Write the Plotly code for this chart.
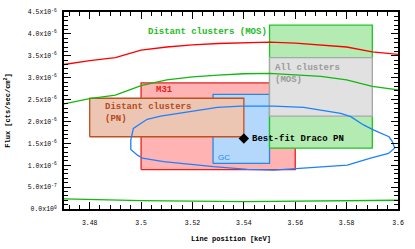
import plotly.graph_objects as go

# ---- data ----
line_x = [3.47, 3.48, 3.49, 3.50, 3.51, 3.52, 3.53, 3.54, 3.55, 3.56, 3.57, 3.58, 3.59, 3.60]
red_upper = [3.30, 3.39, 3.46, 3.63, 3.70, 3.75, 3.78, 3.80, 3.81, 3.79, 3.75, 3.70, 3.59, 3.53]
green_mid = [2.40, 2.52, 2.60, 2.82, 2.95, 3.02, 3.06, 3.09, 3.10, 3.07, 3.03, 2.95, 2.80, 2.72]
green_low_x = [3.47, 3.50, 3.54, 3.58, 3.60]
green_low = [0.23, 0.19, 0.17, 0.18, 0.20]

blue_x = [3.496, 3.497, 3.500, 3.5024, 3.5076, 3.5154, 3.5232, 3.5297, 3.5388, 3.5516,
          3.5633, 3.5777, 3.5816, 3.5866, 3.5906, 3.5965, 3.5978, 3.5987, 3.5963, 3.5893,
          3.5803, 3.5633, 3.5516, 3.5414, 3.5282, 3.5088, 3.5005, 3.4986, 3.496, 3.496]
blue_y = [1.575, 1.84, 1.96, 2.05, 2.12, 2.185, 2.26, 2.32, 2.35, 2.35,
          2.32, 2.185, 2.11, 1.92, 1.80, 1.65, 1.54, 1.39, 1.27, 1.16,
          1.00, 0.93, 0.89, 0.906, 0.966, 1.08, 1.16, 1.23, 1.36, 1.575]

# boxes: (x0, x1, y0, y1) in keV and 1e-6 cts/sec/cm^2
box_m31 = [3.50, 3.56, 0.90, 2.88]
box_gc = [3.528, 3.55, 1.04, 2.62]
box_pn = [3.48, 3.54, 1.65, 2.53]
box_mos = [3.55, 3.59, 1.39, 4.20]
box_all = [3.55, 3.59, 2.12, 3.46]

best_fit_x = [3.54]
best_fit_y = [1.61]

y_tickvals = [0, 0.5, 1.0, 1.5, 2.0, 2.5, 3.0, 3.5, 4.0, 4.5]
y_ticktext = ["0.0x10<sup>0</sup>", "5.0x10<sup>-7</sup>", "1.0x10<sup>-6</sup>",
              "1.5x10<sup>-6</sup>", "2.0x10<sup>-6</sup>", "2.5x10<sup>-6</sup>",
              "3.0x10<sup>-6</sup>", "3.5x10<sup>-6</sup>", "4.0x10<sup>-6</sup>",
              "4.5x10<sup>-6</sup>"]
x_tickvals = [3.48, 3.50, 3.52, 3.54, 3.56, 3.58, 3.60]
x_ticktext = ["3.48", "3.5", "3.52", "3.54", "3.56", "3.58", "3.6"]

MONO = "Liberation Mono"

fig = go.Figure()


def add_box(b, fill, edge):
    x0, x1, y0, y1 = b
    fig.add_trace(go.Scatter(
        x=[x0, x1, x1, x0, x0], y=[y0, y0, y1, y1, y0],
        mode="lines", fill="toself", fillcolor=fill,
        line=dict(color=edge, width=1.3), hoverinfo="skip", showlegend=False))


add_box(box_m31, "#ffb3b3", "#e82020")
add_box(box_gc, "#b3d8fb", "#2a86e8")
add_box(box_pn, "#ecc6b2", "#c0501e")
add_box(box_mos, "#b3ebb3", "#22c422")
add_box(box_all, "#e1e1e1", "#a8a8a8")

fig.add_trace(go.Scatter(x=line_x, y=red_upper, mode="lines",
                         line=dict(color="#ff0000", width=1.3), showlegend=False))
fig.add_trace(go.Scatter(x=line_x, y=green_mid, mode="lines",
                         line=dict(color="#10b810", width=1.3), showlegend=False))
fig.add_trace(go.Scatter(x=green_low_x, y=green_low, mode="lines",
                         line=dict(color="#10b810", width=1.3), showlegend=False))
fig.add_trace(go.Scatter(x=blue_x, y=blue_y, mode="lines",
                         line=dict(color="#1e80ff", width=1.3, shape="linear"),
                         showlegend=False))
fig.add_trace(go.Scatter(x=best_fit_x, y=best_fit_y, mode="markers",
                         marker=dict(symbol="diamond", size=8, color="black"),
                         showlegend=False))

ann = [
    ("Distant clusters (MOS)", 3.502, 4.04, "#22bb22", MONO, 9, True),
    ("M31", 3.505, 2.72, "#e02020", MONO, 9, True),
    ("Distant clusters<br>(PN)", 3.485, 2.19, "#b8481a", MONO, 9, True),
    ("GC", 3.5290, 1.18, "#2a86e8", "Liberation Sans", 8, False),
    ("All clusters<br>(MOS)", 3.5515, 3.08, "#9a9a9a", MONO, 9, True),
    ("Best-fit Draco PN", 3.5423, 1.61, "black", MONO, 9, True),
]
for text, x, y, col, fam, size, bold in ann:
    t = f"<b>{text}</b>" if bold else text
    fig.add_annotation(x=x, y=y, text=t, showarrow=False, xanchor="left", yanchor="middle",
                       align="left", font=dict(family=fam, size=size, color=col))

axis_common = dict(showgrid=False, zeroline=False, showline=True, linecolor="black",
                   linewidth=2, mirror="ticks", ticks="inside", ticklen=7, tickwidth=1.3,
                   tickcolor="black", automargin=False)

fig.update_xaxes(range=[3.47, 3.60], tickvals=x_tickvals, ticktext=x_ticktext,
                 title=dict(text="<b>Line position [keV]</b>",
                            font=dict(family=MONO, size=7, color="black"), standoff=10),
                 tickfont=dict(family=MONO, size=6.5, color="black"), ticklabelstandoff=6,
                 minor=dict(ticks="inside", dtick=0.004, tick0=3.48, ticklen=4,
                            tickcolor="black", tickwidth=1),
                 **axis_common)
fig.update_yaxes(range=[0, 4.5], tickvals=y_tickvals, ticktext=y_ticktext,
                 title=dict(text="<b>Flux [cts/sec/cm<sup>2</sup>]</b>",
                            font=dict(family=MONO, size=7, color="black"), standoff=16),
                 tickfont=dict(family=MONO, size=6.5, color="black"), ticklabelstandoff=4,
                 minor=dict(ticks="inside", dtick=0.1, tick0=0, ticklen=4,
                            tickcolor="black", tickwidth=1),
                 **axis_common)

fig.update_layout(width=415, height=249, margin=dict(l=64, r=17, t=12, b=40),
                  plot_bgcolor="white", paper_bgcolor="white", showlegend=False)

# remove the default 8px page margin so the figure sits at the window origin
fig.write_html("out.html", config={"displayModeBar": False},
               post_script="document.body.style.margin='0';")
